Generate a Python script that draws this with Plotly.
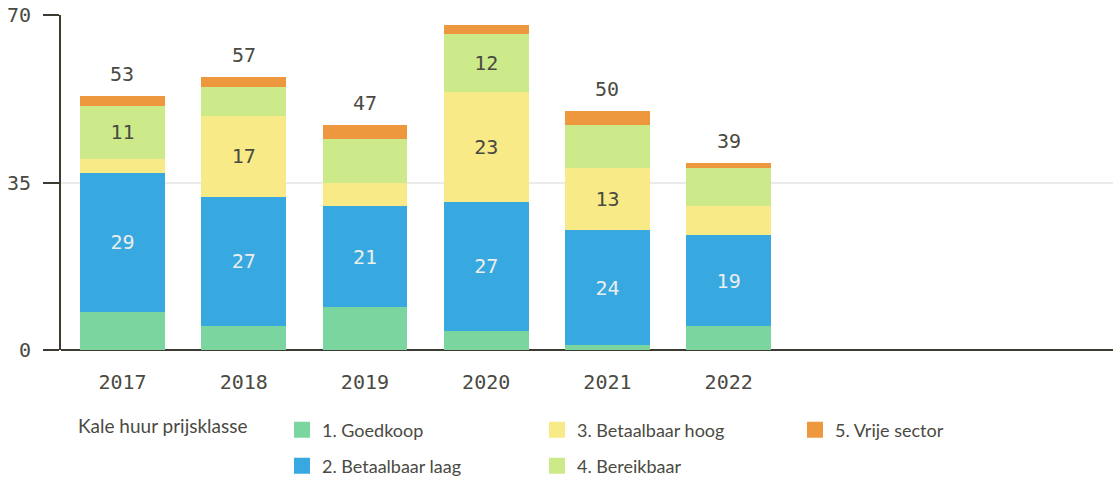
import plotly.graph_objects as go

years = ["2017", "2018", "2019", "2020", "2021", "2022"]
goedkoop = [8, 5, 9, 4, 1, 5]
betaalbaar_laag = [29, 27, 21, 27, 24, 19]
betaalbaar_hoog = [3, 17, 5, 23, 13, 6]
bereikbaar = [11, 6, 9, 12, 9, 8]
vrije_sector = [2, 2, 3, 2, 3, 1]
show_total = [True, True, True, False, True, True]

series_names = ["1. Goedkoop", "2. Betaalbaar laag", "3. Betaalbaar hoog", "4. Bereikbaar", "5. Vrije sector"]
series_values = [goedkoop, betaalbaar_laag, betaalbaar_hoog, bereikbaar, vrije_sector]
series_colors = ["#7AD69E", "#37A9E0", "#F8EA87", "#CCEA8A", "#ED983E"]
series_textcolors = ["#4a4a42", "#EDEDED", "#4a4a42", "#4a4a42", "#4a4a42"]
series_legends = ["legend", "legend2", "legend3", "legend4", "legend5"]
label_min = 10

MONO = "DejaVu Sans Mono"
SANS = "Lato"
INK = "#4a4a42"

W, H = 1113, 477
ML, MR, MT, MB = 61, 0, 15, 127
PW, PH = W - ML - MR, H - MT - MB


def px_to_paper(px, py):
    return (px - ML) / PW, (H - MB - py) / PH


fig = go.Figure()
for name, vals, col, tcol, lg in zip(series_names, series_values, series_colors, series_textcolors, series_legends):
    fig.add_trace(go.Bar(
        x=years, y=vals, name=name,
        marker=dict(color=col, line=dict(width=0)),
        text=[str(v) if v >= label_min else "" for v in vals],
        textposition="inside", insidetextanchor="middle",
        textfont=dict(family=MONO, size=20, color=tcol),
        hoverinfo="x+y+name",
        showlegend=False,
    ))
    # legend swatch (larger square than the default bar swatch)
    fig.add_trace(go.Scatter(
        x=[None], y=[None], mode="markers", name=name,
        marker=dict(symbol="square", size=20, color=col),
        legend=lg, showlegend=True, hoverinfo="skip",
    ))

totals = [sum(v) for v in zip(*series_values)]
for i, (tot, show) in enumerate(zip(totals, show_total)):
    if show:
        fig.add_annotation(x=i, y=tot, xref="x", yref="y", text=str(tot), showarrow=False,
                           yanchor="middle", yshift=22,
                           font=dict(family=MONO, size=20, color=INK))

tx, ty = px_to_paper(76, 425)
fig.add_annotation(xref="paper", yref="paper", x=tx, y=ty, xanchor="left", yanchor="middle",
                   text="Kale huur prijsklasse", showarrow=False,
                   font=dict(family=SANS, size=19, color=INK))

legend_px = {
    "legend": (282, 430),
    "legend2": (282, 466),
    "legend3": (537, 430),
    "legend4": (537, 466),
    "legend5": (795, 430),
}
legend_layout = {}
for key, (px, py) in legend_px.items():
    lx, ly = px_to_paper(px, py)
    legend_layout[key] = dict(
        x=lx, y=ly, xref="paper", yref="paper",
        xanchor="left", yanchor="middle",
        font=dict(family=SANS, size=18, color=INK),
        bgcolor="rgba(0,0,0,0)", borderwidth=0,
        itemsizing="trace",
    )

fig.update_layout(
    width=W, height=H,
    barmode="stack", bargap=0.3,
    plot_bgcolor="white", paper_bgcolor="white",
    margin=dict(l=ML, r=MR, t=MT, b=MB, autoexpand=False),
    showlegend=True,
    **legend_layout,
    xaxis=dict(
        type="category", range=[-0.507, 8.17],
        showgrid=False, showline=False, zeroline=False,
        ticks="", ticklabelstandoff=18,
        tickfont=dict(family=MONO, size=20, color=INK),
    ),
    yaxis=dict(
        range=[0, 70], tickvals=[0, 35, 70],
        showgrid=True, gridcolor="#EBEBEB", gridwidth=1.5,
        showline=True, linecolor="#3d3a32", linewidth=2,
        zeroline=True, zerolinecolor="#3d3a32", zerolinewidth=2,
        ticks="outside", ticklen=16, tickwidth=2, tickcolor="#3d3a32",
        ticklabelstandoff=8,
        tickfont=dict(family=MONO, size=20, color=INK),
    ),
)

fig.write_html("out.html", config={"displayModeBar": False},
               post_script="document.body.style.margin='0';document.body.style.overflow='hidden';")
